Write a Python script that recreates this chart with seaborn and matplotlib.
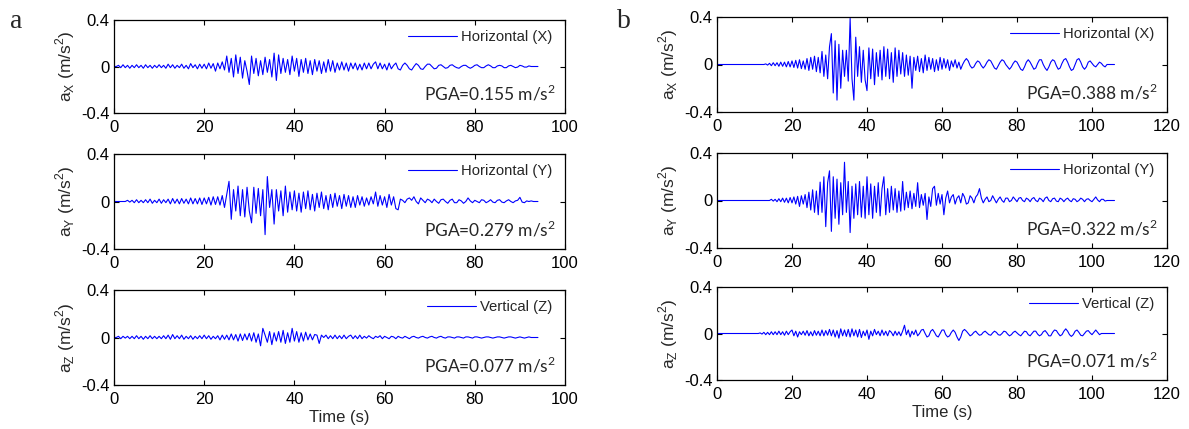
import numpy as np
import matplotlib
matplotlib.use("Agg")
import matplotlib.pyplot as plt
import seaborn as sns

# sampling step of the digitised records (s)
DT = 0.5

# event a, accelerations in m/s^2
a_x = [0, 0, 0.01, -0.01, 0.015, -0.01, 0.01, -0.015, 0.01, -0.01, 0.015, -0.01, 0.01, -0.015, 0.015, -0.01, 0.01, -0.015, 0.01, -0.01,
       0.015, -0.01, 0.01, -0.015, 0.02, -0.01, 0.015, -0.015, 0.01, -0.01, 0.02, -0.015, 0.01, -0.02, 0.025, -0.01, 0.015, -0.02, 0.02, -0.015,
       0.02, -0.02, 0.03, -0.015, 0.025, -0.04, 0.03, -0.02, 0.04, -0.03, 0.09, -0.05, 0.07, -0.09, 0.1, -0.06, 0.08, -0.1, 0.05, -0.04,
       -0.155, 0.09, -0.06, 0.07, -0.08, 0.05, -0.07, 0.08, -0.05, 0.06, -0.09, 0.115, -0.12, 0.1, -0.06, 0.07, -0.05, 0.06, -0.07, 0.09,
       -0.04, 0.07, -0.085, 0.06, -0.05, 0.07, -0.06, 0.05, -0.07, 0.06, -0.04, 0.05, -0.06, 0.04, -0.05, 0.06, -0.04, 0.05, -0.05, 0.03,
       -0.03, 0.04, -0.03, 0.03, -0.04, 0.03, -0.02, 0.03, -0.03, 0.02, -0.03, 0.03, -0.02, 0.03, -0.02, 0.02, 0.04, -0.02, 0.03, -0.02,
       0.02, -0.03, 0.03, -0.02, 0.01, 0.03, -0.02, -0.03, 0.01, 0.03, 0.01, -0.02, -0.03, 0.0, 0.025, 0.01, -0.02, -0.025, 0.0, 0.02,
       0.02, 0.0, -0.02, -0.015, 0.01, 0.015, 0.0, -0.015, -0.01, 0.01, 0.015, 0.0, -0.01, -0.015, 0.0, 0.01, 0.01, -0.005, -0.015, -0.005,
       0.01, 0.015, 0.0, -0.01, -0.01, 0.005, 0.015, 0.005, -0.01, -0.01, 0.005, 0.01, 0.005, -0.01, -0.01, 0.005, 0.01, 0.0, -0.01, -0.005,
       0.01, 0.005, -0.005, -0.005, 0.005, 0.0, 0.0, 0.0, 0.0]

a_y = [0, 0, 0, 0, 0, 0, 0.01, -0.005, 0.01, -0.01, 0.015, -0.01, 0.01, -0.01, 0.015, -0.01, 0.02, -0.015, 0.01, -0.01,
       0.02, -0.015, 0.015, -0.01, 0.02, -0.02, 0.025, -0.015, 0.02, -0.02, 0.025, -0.015, 0.02, -0.02, 0.03, -0.02, 0.025, -0.02, 0.03, -0.025,
       0.03, -0.02, 0.035, -0.03, 0.04, -0.025, 0.04, -0.03, 0.05, -0.05, 0.06, 0.17, -0.15, 0.1, -0.08, 0.13, -0.12, 0.1, -0.13, 0.12,
       -0.08, -0.18, 0.12, -0.1, 0.11, -0.12, 0.1, -0.279, 0.21, -0.05, 0.1, -0.19, 0.1, -0.08, 0.09, -0.12, 0.13, -0.09, 0.08, -0.07,
       0.09, -0.08, 0.07, -0.09, 0.08, -0.06, 0.09, -0.07, 0.06, -0.08, 0.07, -0.05, 0.08, -0.06, 0.05, -0.07, 0.06, -0.05, 0.07, -0.04,
       0.05, -0.06, 0.06, -0.04, 0.05, -0.05, 0.04, -0.05, 0.05, -0.03, 0.04, -0.04, 0.03, -0.03, 0.04, -0.02, 0.08, -0.04, 0.05, -0.03,
       0.04, -0.05, 0.06, -0.03, 0.04, -0.06, -0.07, 0.02, 0.01, -0.01, 0.02, 0.03, 0.01, 0.04, 0.0, -0.02, 0.03, 0.01, -0.01, 0.02,
       0.01, -0.01, 0.02, 0.0, -0.015, 0.015, 0.02, 0.0, -0.015, 0.01, 0.02, -0.01, -0.01, 0.015, 0.005, -0.015, 0.0, 0.03, 0.005, -0.01,
       0.01, 0.0, -0.01, 0.015, 0.01, -0.01, 0.0, 0.015, -0.005, -0.01, 0.01, 0.015, -0.005, -0.01, 0.005, 0.015, 0.0, -0.01, 0.005, 0.01,
       0.035, -0.005, -0.01, 0.005, 0.0, 0.005, 0.0, 0.0, 0.0]

a_z = [0, 0, 0.01, -0.01, 0.01, -0.005, 0.01, -0.01, 0.01, -0.01, 0.015, -0.01, 0.01, -0.015, 0.01, -0.01, 0.015, -0.01, 0.01, -0.01,
       0.01, -0.01, 0.015, -0.01, 0.02, -0.015, 0.025, -0.01, 0.015, -0.01, 0.02, -0.015, 0.01, -0.01, 0.015, -0.015, 0.01, -0.01, 0.015, -0.01,
       0.02, -0.01, 0.015, -0.015, 0.01, -0.01, 0.015, -0.02, 0.02, -0.015, 0.02, -0.02, 0.03, -0.02, 0.025, -0.03, 0.03, -0.025, 0.03, -0.02,
       0.035, -0.03, 0.04, -0.04, 0.03, -0.07, 0.077, 0.02, -0.04, 0.05, -0.06, 0.04, -0.03, 0.05, -0.04, 0.06, -0.05, 0.04, -0.04, 0.077,
       -0.03, 0.05, -0.04, 0.04, -0.03, 0.045, -0.02, 0.03, -0.02, 0.025, 0.02, -0.05, 0.02, 0.0, 0.02, -0.01, 0.015, -0.01, 0.02, -0.01,
       0.015, -0.01, 0.02, -0.01, 0.01, 0.02, -0.01, 0.015, -0.01, 0.02, -0.01, 0.01, -0.005, 0.015, 0.0, -0.01, 0.01, 0.0, 0.015, -0.01,
       0.01, 0.0, -0.01, 0.01, 0.005, -0.01, 0.01, 0.0, -0.005, 0.01, 0.0, -0.01, 0.005, 0.01, 0.0, -0.005, 0.005, 0.01, 0.0, -0.005,
       0.005, 0.01, 0.0, -0.005, 0.005, 0.01, 0.0, -0.005, 0.005, 0.005, 0.0, -0.005, 0.005, 0.005, 0.0, -0.005, 0.005, 0.005, 0.0, -0.005,
       0.005, 0.005, 0.0, -0.005, 0.0, 0.005, 0.005, 0.0, -0.005, 0.0, 0.005, 0.005, 0.0, -0.005, 0.0, 0.005, 0.005, 0.0, -0.005, 0.0,
       0.005, 0.0, -0.005, 0.0, 0.005, 0.0, 0.0, 0.0, 0.0]

# event b
b_x = [0, 0, 0, 0, 0, 0, 0, 0, 0, 0, 0, 0, 0, 0, 0, 0, 0, 0, 0, 0,
       0, 0, 0, 0, 0, 0, 0.005, -0.005, 0.01, -0.01, 0.015, -0.01, 0.015, -0.015, 0.02, -0.015, 0.02, -0.02, 0.025, -0.02,
       0.03, -0.025, 0.035, -0.03, 0.04, -0.035, 0.03, -0.04, 0.05, -0.05, 0.06, -0.04, 0.07, -0.06, 0.06, -0.07, 0.11, -0.1, 0.08, -0.12,
       0.15, 0.26, -0.24, 0.2, -0.3, 0.17, -0.2, 0.12, -0.1, 0.12, -0.14, 0.388, -0.12, -0.3, 0.23, -0.1, 0.15, -0.15, 0.12, -0.13,
       -0.22, 0.14, -0.12, 0.13, -0.17, 0.1, -0.1, 0.12, -0.13, 0.15, -0.1, 0.13, -0.12, 0.1, -0.15, 0.14, -0.1, 0.12, -0.08, 0.1,
       -0.1, 0.08, -0.09, 0.07, -0.2, 0.06, -0.05, 0.07, -0.06, 0.05, -0.07, 0.08, -0.05, 0.06, -0.04, 0.05, -0.06, 0.04, -0.05, 0.06,
       -0.04, 0.05, -0.03, 0.04, -0.05, 0.03, -0.02, 0.04, -0.03, 0.02, -0.04, 0.0, 0.03, 0.05, 0.03, -0.01, -0.03, -0.02, 0.01, 0.03,
       0.02, -0.01, -0.03, -0.01, 0.02, 0.04, 0.03, 0.0, -0.03, -0.04, -0.01, 0.02, 0.04, 0.03, 0.0, -0.02, -0.04, -0.02, 0.01, 0.03,
       0.02, -0.01, -0.04, -0.05, -0.02, 0.02, 0.04, 0.02, -0.01, -0.04, -0.03, 0.01, 0.04, 0.04, 0.0, -0.03, -0.05, -0.02, 0.02, 0.04,
       0.03, -0.01, -0.04, -0.03, 0.01, 0.04, 0.05, 0.02, -0.02, -0.05, -0.04, 0.0, 0.04, 0.05, 0.02, -0.02, -0.04, -0.02, 0.02, 0.03,
       0.01, -0.01, -0.02, 0.0, 0.02, 0.01, -0.01, -0.02, 0.0, 0.0, 0.0, 0.0, 0.0]

b_y = [0, 0, 0, 0, 0, 0, 0, 0, 0, 0, 0, 0, 0, 0, 0, 0, 0, 0, 0, 0,
       0, 0, 0, 0, 0, 0, 0, 0, 0, 0.01, -0.005, 0.01, -0.01, 0.015, -0.01, 0.02, -0.015, 0.02, -0.02, 0.025,
       -0.02, 0.03, -0.03, 0.035, -0.05, 0.04, -0.03, 0.05, -0.06, 0.07, -0.08, 0.09, -0.1, 0.08, -0.12, 0.155, -0.1, 0.2, -0.22, 0.15,
       0.25, -0.26, 0.2, -0.15, 0.18, -0.2, 0.15, -0.12, 0.322, -0.1, 0.16, -0.27, 0.12, -0.15, 0.14, -0.12, 0.16, -0.14, 0.12, -0.15,
       0.2, -0.12, 0.14, -0.15, 0.12, -0.1, 0.15, -0.13, 0.1, 0.2, -0.12, 0.1, -0.1, 0.12, -0.08, 0.1, -0.1, 0.08, -0.09, 0.16,
       -0.08, 0.07, -0.06, 0.08, -0.07, 0.06, -0.05, 0.15, -0.06, 0.05, -0.04, 0.06, -0.16, 0.03, -0.05, 0.1, 0.12, -0.04, 0.06, -0.03,
       0.05, -0.12, 0.02, 0.08, -0.02, 0.03, 0.05, -0.03, 0.02, 0.04, -0.02, 0.06, 0.03, -0.03, -0.02, 0.04, 0.02, -0.02, 0.03, 0.05,
       0.1, 0.02, -0.02, 0.01, 0.03, -0.01, 0.0, 0.04, 0.01, -0.02, 0.01, 0.03, 0.0, -0.015, 0.02, 0.02, -0.01, 0.0, 0.03, 0.01,
       -0.01, 0.02, 0.025, 0.0, -0.01, 0.02, 0.01, -0.01, 0.015, 0.025, 0.0, -0.01, 0.02, 0.01, -0.01, 0.02, 0.03, 0.0, -0.01, 0.015,
       0.02, -0.005, -0.01, 0.02, 0.01, -0.01, 0.01, 0.02, 0.0, -0.01, 0.015, 0.01, -0.01, 0.0, 0.02, 0.01, -0.01, 0.01, 0.015, 0.0,
       -0.01, 0.01, 0.03, 0.005, -0.01, 0.01, 0.01, -0.005, 0.0, 0.0, 0.0, 0.0, 0.0]

b_z = [0, 0, 0, 0, 0, 0, 0, 0, 0, 0, 0, 0, 0, 0, 0, 0, 0, 0, 0, 0,
       0, 0, 0, 0.005, -0.005, 0.01, -0.01, 0.01, -0.01, 0.015, -0.01, 0.015, -0.01, 0.02, -0.01, 0.015, -0.015, 0.02, -0.01, 0.015,
       0.03, -0.02, 0.02, -0.03, 0.015, -0.01, 0.02, -0.015, 0.025, -0.02, 0.015, -0.02, 0.025, -0.015, 0.02, -0.02, 0.03, -0.02, 0.025, -0.015,
       0.035, -0.02, 0.03, -0.03, 0.025, -0.04, 0.04, -0.02, 0.03, -0.025, 0.035, -0.03, 0.04, -0.02, 0.03, -0.03, 0.035, -0.035, 0.02, -0.02,
       0.03, -0.05, 0.02, -0.02, 0.035, -0.01, 0.02, -0.02, 0.03, -0.015, 0.02, -0.02, 0.025, 0.01, -0.02, 0.02, -0.015, 0.015, -0.02, 0.02,
       0.071, -0.01, 0.03, -0.03, 0.02, -0.01, 0.03, -0.02, 0.0, 0.03, 0.035, 0.0, -0.03, -0.02, 0.02, 0.035, 0.01, -0.02, -0.03, 0.0,
       0.03, 0.03, -0.01, -0.03, -0.02, 0.01, 0.03, 0.01, -0.03, -0.06, -0.03, 0.02, 0.035, 0.02, 0.0, -0.02, -0.01, 0.01, 0.02, 0.0,
       -0.015, -0.01, 0.01, 0.02, 0.005, -0.01, -0.015, 0.005, 0.02, 0.01, -0.01, -0.015, 0.0, 0.02, 0.015, -0.005, -0.02, -0.01, 0.01, 0.02,
       0.005, -0.01, -0.02, 0.0, 0.02, 0.015, -0.01, -0.02, 0.0, 0.02, 0.02, -0.005, -0.02, -0.01, 0.015, 0.025, 0.005, -0.02, -0.02, 0.01,
       0.03, 0.025, 0.0, -0.02, -0.01, 0.02, 0.04, 0.02, -0.01, -0.025, -0.01, 0.02, 0.03, 0.01, -0.015, -0.02, 0.0, 0.02, 0.025, 0.005,
       -0.01, 0.01, 0.03, 0.01, -0.01, 0.0, 0.0, 0.0, 0.0, 0.0, 0.0, 0.0, 0.0]

components = ["X", "Y", "Z"]
legend_labels = ["Horizontal (X)", "Horizontal (Y)", "Vertical (Z)"]
pga_a = ["0.155", "0.279", "0.077"]
pga_b = ["0.388", "0.322", "0.071"]
xlim_a = 100
xlim_b = 120

sns.set_style("ticks")
plt.rcParams["font.family"] = ["Liberation Sans", "DejaVu Sans"]
plt.rcParams["xtick.direction"] = "in"
plt.rcParams["ytick.direction"] = "in"
plt.rcParams["axes.linewidth"] = 0.9

W, H = 1189, 429
fig = plt.figure(figsize=(W / 100, H / 100), dpi=100)

# (top, bottom) of each row in pixels, per panel
rows_a = [(20, 113), (154, 249), (290, 385)]
rows_b = [(17, 112), (153, 248), (287, 380)]
panels = [
    ("a", 114, 565, rows_a, [a_x, a_y, a_z], pga_a, xlim_a, 10),
    ("b", 717, 1167, rows_b, [b_x, b_y, b_z], pga_b, xlim_b, 617),
]

for letter, x0, x1, rows, series, pgas, xmax, letter_x in panels:
    fig.text(letter_x / W, 1 - 21 / H, letter, fontsize=20,
             family="Liberation Serif", va="center", ha="left")
    for i, (top, bot) in enumerate(rows):
        ax = fig.add_axes([x0 / W, 1 - bot / H, (x1 - x0) / W, (bot - top) / H])
        vals = np.array(series[i])
        t = np.arange(len(vals)) * DT
        sns.lineplot(x=t, y=vals, ax=ax, color="blue", lw=0.8,
                     label=legend_labels[i], estimator=None, sort=False)
        ax.set_xlim(0, xmax)
        ax.set_ylim(-0.4, 0.4)
        ax.set_xticks(np.arange(0, xmax + 1, 20))
        ax.set_yticks([-0.4, 0, 0.4])
        ax.set_yticklabels(["-0.4", "0", "0.4"])
        ax.tick_params(top=True, right=True, length=3.5, width=0.8,
                       labelsize=12, colors="black", pad=3)
        ax.tick_params(axis="x", pad=5)
        for s in ax.spines.values():
            s.set_color("black")
        ax.set_ylabel(r"a$_\mathregular{%s}$ (m/s$^\mathregular{2}$)" % components[i],
                      fontsize=12.5, labelpad=3)
        ax.set_xlabel("Time (s)" if i == 2 else "", fontsize=12, labelpad=2)
        ax.legend(loc="upper right", bbox_to_anchor=(0.995, 1.0), frameon=False,
                  fontsize=10.7, handlelength=3.3, handletextpad=0.3,
                  borderaxespad=0.3)
        ax.text(0.98, 0.21, r"PGA=%s m/s$^\mathregular{2}$" % pgas[i],
                transform=ax.transAxes, ha="right", va="center",
                fontsize=12.5, family="Lato")

fig.savefig("out.png", dpi=100)
